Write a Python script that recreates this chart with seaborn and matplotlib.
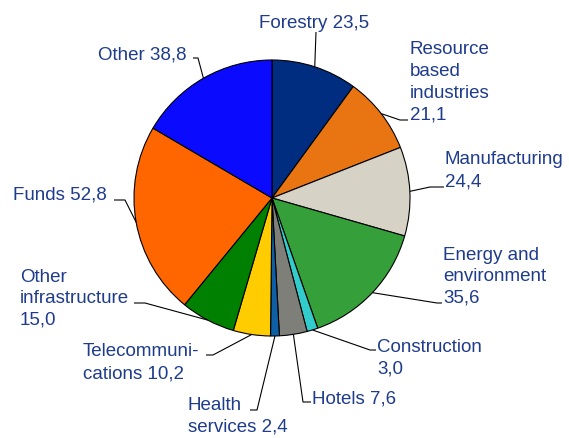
import numpy as np
import matplotlib
matplotlib.use("Agg")
import matplotlib.pyplot as plt
import seaborn as sns

# ---- data ----
labels = ["Forestry 23,5", "Resource\nbased\nindustries\n21,1", "Manufacturing\n24,4",
          "Energy and\nenvironment\n35,6", "Construction\n3,0", "Hotels 7,6",
          "Health\nservices 2,4", "Telecommuni-\ncations 10,2",
          "Other\ninfrastructure\n15,0", "Funds 52,8", "Other 38,8"]
values = [23.5, 21.1, 24.4, 35.6, 3.0, 7.6, 2.4, 10.2, 15.0, 52.8, 38.8]
colors = ["#002D80", "#E87512", "#D6D2C6", "#35A03A", "#33CCCC", "#7F7F7A",
          "#0E5FA5", "#FFCC00", "#008000", "#FF6600", "#0A0AFF"]

# ---- layout (pixel coordinates, y measured from top) ----
W, H = 569, 438
cx, cy, R = 272, 198, 138
# text left x, first-line centre y
text_pos = [(259, 22), (410, 48), (445, 158), (443, 253), (377, 345), (312, 397),
            (188, 403), (83, 350), (20, 275), (13, 193), (98, 53)]
# leader line elbow points after the wedge edge point
elbows = [[(316, 32)], [(400, 120), (408, 120)], [(430, 187), (444, 187)],
          [(437, 303), (442, 303)], [(370, 350), (376, 350)], [(303, 402), (311, 402)],
          [(257, 410), (250, 410)], [(213, 355), (206, 355)], [(145, 303), (134, 303)],
          [(125, 200), (114, 200)], [(198, 58), (193, 58)]]

sns.set_style("white")
plt.rcParams["font.family"] = ["Liberation Sans", "DejaVu Sans"]
palette = sns.color_palette(colors)

fig = plt.figure(figsize=(W / 100, H / 100), dpi=100)
ax = fig.add_axes([0, 0, 1, 1])
ax.set_xlim(0, W)
ax.set_ylim(0, H)
ax.set_aspect("equal")
ax.axis("off")

def P(x, y):
    return x, H - y

ax.pie(values, colors=palette, startangle=90, counterclock=False,
       center=P(cx, cy), radius=R, frame=True,
       wedgeprops=dict(edgecolor="black", linewidth=0.8))
ax.set_xlim(0, W)
ax.set_ylim(0, H)
ax.axis("off")

total = float(sum(values))
cum = np.cumsum([0] + values)
text_color = "#1F3C8C"
fs = 13.5
pitch = 21.7
for i, lab in enumerate(labels):
    mid = (cum[i] + values[i] / 2) / total * 360.0
    ex = cx + R * np.sin(np.radians(mid))
    ey = cy - R * np.cos(np.radians(mid))
    pts = [(ex, ey)] + elbows[i]
    xs = [p[0] for p in pts]
    ys = [H - p[1] for p in pts]
    ax.plot(xs, ys, color="black", linewidth=0.8, solid_capstyle="butt")
    tx, ty = text_pos[i]
    for j, line in enumerate(lab.split("\n")):
        ax.text(*P(tx, ty + j * pitch), line, ha="left", va="center_baseline",
                fontsize=fs, color=text_color)

fig.savefig("out.png", dpi=100)
